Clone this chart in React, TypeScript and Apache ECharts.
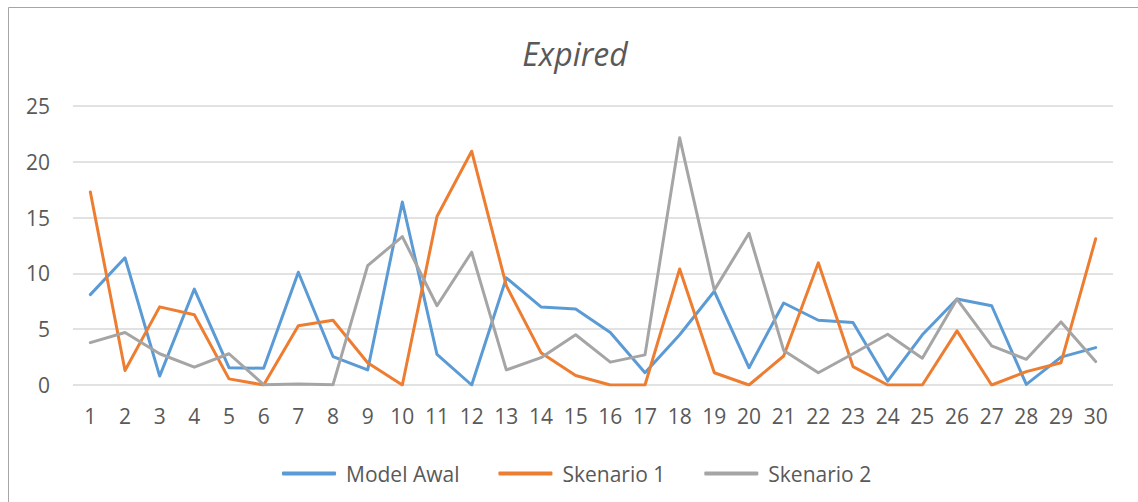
import React, { useEffect, useRef } from "react";
import * as echarts from "echarts";

const categories = Array.from({ length: 30 }, (_, i) => String(i + 1));
const yTicks = [0, 5, 10, 15, 20, 25];
const seriesNames = ["Model Awal", "Skenario 1", "Skenario 2"];
const modelAwal = [8.1, 11.4, 0.8, 8.6, 1.55, 1.5, 10.1, 2.55, 1.35, 16.4, 2.75, 0, 9.6, 7.0, 6.8, 4.7, 1.1, 4.5, 8.4, 1.55, 7.35, 5.8, 5.6, 0.35, 4.5, 7.7, 7.1, 0.05, 2.5, 3.35];
const skenario1 = [17.3, 1.3, 7.0, 6.3, 0.55, 0, 5.3, 5.8, 2.0, 0, 15.1, 20.95, 8.9, 2.9, 0.85, 0, 0, 10.4, 1.1, 0, 2.6, 10.95, 1.65, 0, 0, 4.85, 0, 1.2, 2.0, 13.1];
const skenario2 = [3.8, 4.7, 2.8, 1.6, 2.8, 0.03, 0.1, 0.03, 10.7, 13.3, 7.1, 11.9, 1.35, 2.45, 4.5, 2.05, 2.7, 22.15, 8.5, 13.6, 3.1, 1.1, 2.8, 4.55, 2.4, 7.7, 3.5, 2.3, 5.65, 2.1];
const colors = ["#5B9BD5", "#ED7D31", "#A5A5A5"];
const titleText = "Expired";

const FONT = "'Open Sans', 'Noto Sans', sans-serif";
const TEXT = "#595959";

export default function App() {
  const ref = useRef<HTMLDivElement>(null);
  useEffect(() => {
    if (!ref.current) return;
    const chart = echarts.init(ref.current, null, { renderer: "svg" });
    const data = [modelAwal, skenario1, skenario2];
    chart.setOption({
      animation: false,
      backgroundColor: "#ffffff",
      textStyle: { fontFamily: FONT },
      graphic: [
        {
          type: "rect",
          shape: { x: 8.5, y: 7.5, width: 1200, height: 600 },
          style: { fill: "none", stroke: "#a6a6a6", lineWidth: 1 },
          silent: true,
        },
        {
          type: "text",
          x: 575,
          y: 53,
          style: {
            text: titleText,
            fontFamily: FONT,
            fontSize: 32,
            fontStyle: "italic",
            fill: TEXT,
            align: "center",
            verticalAlign: "middle",
          },
        },
      ],
      grid: { left: 73, right: 25, top: 106, bottom: 117, containLabel: false },
      legend: {
        data: seriesNames,
        left: 277,
        top: 458,
        itemGap: 39,
        itemWidth: 54,
        itemHeight: 4,
        icon: "roundRect",
        textStyle: { color: TEXT, fontSize: 21, fontFamily: FONT, padding: [0, 0, 0, 5] },
      },
      xAxis: {
        type: "category",
        data: categories,
        boundaryGap: true,
        axisLine: { show: false },
        axisTick: { show: false },
        axisLabel: { color: TEXT, fontSize: 21, fontFamily: FONT, margin: 20, interval: 0 },
      },
      yAxis: {
        type: "value",
        min: yTicks[0],
        max: yTicks[yTicks.length - 1],
        interval: 5,
        axisLine: { show: false },
        axisTick: { show: false },
        axisLabel: { color: TEXT, fontSize: 21, fontFamily: FONT, margin: 23 },
        splitLine: { lineStyle: { color: "#d9d9d9", width: 1.5 } },
      },
      series: seriesNames.map((name, i) => ({
        name,
        type: "line",
        data: data[i],
        symbol: "none",
        color: colors[i],
        lineStyle: { width: 3, color: colors[i], join: "round", cap: "round" },
      })),
    });
    return () => chart.dispose();
  }, []);
  return (
    <div
      ref={ref}
      style={{ position: "absolute", left: 0, top: 0, width: 1138, height: 502 }}
    />
  );
}
